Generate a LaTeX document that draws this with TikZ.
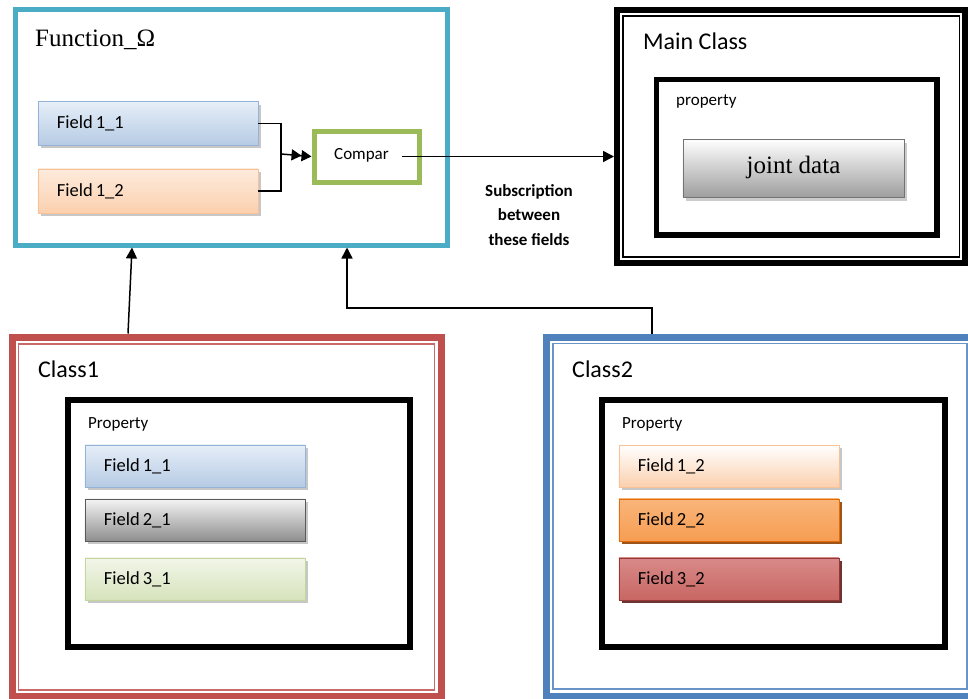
\documentclass[tikz,border=0pt]{standalone}
\usepackage{fontspec}
\setmainfont{Carlito}
\newfontfamily\serifface{Liberation Serif}
\usetikzlibrary{arrows.meta,shadows}
\definecolor{funcc}{HTML}{4BACC6}
\definecolor{compc}{HTML}{9BBB59}
\definecolor{redc}{HTML}{C0504D}
\definecolor{bluec}{HTML}{4F81BD}
\definecolor{bltop}{HTML}{E6EEF8}
\definecolor{blbot}{HTML}{B6CBE4}
\definecolor{blbrd}{HTML}{95B3D7}
\definecolor{pctop}{HTML}{FDEBDD}
\definecolor{pcbot}{HTML}{FBD0AE}
\definecolor{pcbrd}{HTML}{F9C296}
\definecolor{grtop}{HTML}{F4F4F4}
\definecolor{grmid}{HTML}{C8C8C8}
\definecolor{grbot}{HTML}{8E8E8E}
\definecolor{gntop}{HTML}{F2F6E9}
\definecolor{gnbot}{HTML}{D6E3BC}
\definecolor{gnbrd}{HTML}{C3D69B}
\definecolor{ortop}{HTML}{F9B57A}
\definecolor{ormid}{HTML}{F79646}
\definecolor{orbot}{HTML}{F79D52}
\definecolor{orbrd}{HTML}{E46C0A}
\definecolor{orshd}{HTML}{984807}
\definecolor{rdtop}{HTML}{D88A88}
\definecolor{rdmid}{HTML}{C0504D}
\definecolor{rdbot}{HTML}{C86663}
\definecolor{rdbrd}{HTML}{953735}
\definecolor{rdshd}{HTML}{632523}
\tikzset{
  box/.style={draw, rectangle, anchor=north west, inner sep=0pt},
  fieldbox/.style={rectangle, anchor=north west, minimum width=220pt, minimum height=43pt,
    inner sep=0pt, text width=182pt, align=left, font=\fontsize{18.5}{20}\selectfont, line width=0.9pt,
    drop shadow={shadow xshift=3pt, shadow yshift=-3.5pt, fill=black, opacity=0.22}},
  fblue/.style={fieldbox, draw=blbrd, top color=bltop, bottom color=blbot},
  fpeach/.style={fieldbox, draw=pcbrd, top color=pctop, bottom color=pcbot},
  fpeachw/.style={fieldbox, draw=pcbrd, top color=white, bottom color=pcbot},
  fgray/.style={fieldbox, draw=black!65, top color=grtop, middle color=grmid, bottom color=grbot},
  fgreen/.style={fieldbox, draw=gnbrd, top color=gntop, bottom color=gnbot},
  forange/.style={fieldbox, draw=orbrd, top color=ortop, middle color=ormid, bottom color=orbot,
    drop shadow={shadow xshift=3pt, shadow yshift=-3.5pt, fill=orshd, opacity=0.9}},
  fred/.style={fieldbox, draw=rdbrd, top color=rdtop, middle color=rdmid, bottom color=rdbot,
    drop shadow={shadow xshift=3pt, shadow yshift=-3.5pt, fill=rdshd, opacity=0.9}},
  arr/.style={line width=1.5pt, -{Triangle[length=11pt,width=11pt]}},
  conn/.style={line width=1.5pt},
  title/.style={anchor=base west, inner sep=0pt, font=\fontsize{24}{26}\selectfont},
  proptext/.style={anchor=base west, inner sep=0pt, font=\fontsize{17}{19}\selectfont},
}
\begin{document}
\begin{tikzpicture}[x=1pt,y=-1pt]
\useasboundingbox[fill=white] (0,0) rectangle (968,698);

% Function box
\node[box, draw=funcc, line width=5pt, minimum width=432pt, minimum height=235.5pt] (func) at (13,7) {};
\node[anchor=base west, inner sep=0pt, font=\serifface\fontsize{25}{27}\selectfont] (functitle) at (35,47) {Function\_Ω};
\node[fblue, minimum height=43pt] (ff11) at (37.5,101.5) {Field\kern3pt1\_1};
\node[fpeach, minimum height=44pt] (ff12) at (37.5,168.5) {Field\kern3pt1\_2};
\node[box, draw=compc, line width=5pt, minimum width=105pt, minimum height=51pt] (compar) at (311.5,128.5) {};
\node[anchor=base west, inner sep=0pt, font=\fontsize{17}{19}\selectfont] (compartext) at (334,159) {Compar};

% Main class
\node[box, line width=6pt, minimum width=348pt, minimum height=253pt] (mainc) at (614,7) {};
\draw[line width=1.5pt] (623,16) rectangle (959.5,257);
\node[title] (maintitle) at (643,50) {Main Class};
\node[box, line width=5.5pt, minimum width=280.5pt, minimum height=155.5pt] (mainprop) at (653.75,76.75) {};
\node[proptext] (mainproptext) at (676,106) {property};
\node[box, draw=black!55, line width=0.9pt, minimum width=221pt, minimum height=58pt,
      top color=white, bottom color=black!38,
      drop shadow={shadow xshift=3pt, shadow yshift=-4pt, fill=black, opacity=0.2},
      font=\serifface\fontsize{25}{27}\selectfont] (joint) at (682.5,138.5) {joint data};

% Subscription text
\node[align=center, inner sep=0pt, anchor=center, font=\bfseries\fontsize{17}{24.5}\selectfont] (subs) at (529,215)
  {Subscription\\between\\these fields};

% Class1
\node[box, draw=redc, line width=7pt, minimum width=429pt, minimum height=359pt] (class1) at (8.5,333.5) {};
\draw[redc!85, line width=1.5pt] (18.5,344) rectangle (434.5,690);
\node[title] (c1title) at (38,377) {Class1};
\node[box, line width=6pt, minimum width=342.5pt, minimum height=246.5pt] (c1prop) at (64.5,397) {};
\node[proptext] (c1proptext) at (88,428) {Property};
\node[fblue, minimum height=42pt] (c1f1) at (84.5,444.5) {Field\kern3pt1\_1};
\node[fgray, minimum height=42pt] (c1f2) at (84.5,498.5) {Field\kern3pt2\_1};
\node[fgreen, minimum height=42pt] (c1f3) at (84.5,557.5) {Field\kern3pt3\_1};

% Class2
\node[box, draw=bluec, line width=7pt, minimum width=428.5pt, minimum height=359pt] (class2) at (543,333.5) {};
\draw[bluec!85, line width=1.5pt] (553,343.5) rectangle (967,689);
\node[title] (c2title) at (572,377) {Class2};
\node[box, line width=6pt, minimum width=342.5pt, minimum height=246.5pt] (c2prop) at (599,397) {};
\node[proptext] (c2proptext) at (622,428) {Property};
\node[fpeachw, minimum height=42pt] (c2f1) at (618.5,444.5) {Field\kern3pt1\_2};
\node[forange, minimum height=42pt] (c2f2) at (618.5,498.5) {Field\kern3pt2\_2};
\node[fred, minimum height=42pt] (c2f3) at (618.5,557.5) {Field\kern3pt3\_2};

% Connectors
\coordinate (join) at (281,154);
\draw[conn] (ff11.east) -| (join);
\draw[conn] (ff12.east) -| (join);
\draw[line width=1.5pt, -{Triangle[length=10pt,width=11pt]Triangle[length=10pt,width=11pt]}] (join) -- (compar.west);
\draw[arr] ([xshift=-19.5pt]compar.east) -- (compar.east -| mainc.west);
\draw[arr] ([xshift=119.5pt]class1.north west) -- ([xshift=119pt]func.south west);
\coordinate (bend) at (347,308);
\draw[arr] ([xshift=109pt]class2.north west) |- (bend) -- (bend |- func.south);
\end{tikzpicture}
\end{document}
